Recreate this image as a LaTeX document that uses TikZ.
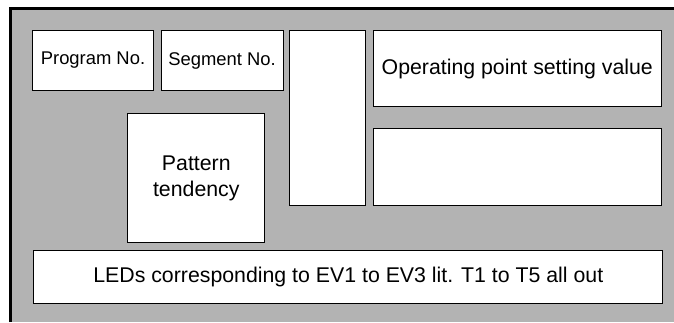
\documentclass[tikz,border=0pt]{standalone}
\usepackage{fontspec}
\setmainfont{Liberation Sans}
\definecolor{panelgray}{RGB}{179,179,179}
\tikzset{
  field/.style={draw=black, fill=white, line width=1pt, inner sep=0pt, align=center},
  bigtxt/.style={font=\fontsize{21.3}{26}\selectfont},
  smalltxt/.style={font=\fontsize{18.4}{22}\selectfont},
}
\begin{document}
\begin{tikzpicture}[x=1pt,y=-1pt]
\useasboundingbox (0,0) rectangle (674,322);
\fill[white] (0,0) rectangle (674,322);
\fill[panelgray] (10.7,8.7) rectangle (674,322);
\draw[line width=2.7pt] (10.7,322) -- (10.7,8.7) -- (674,8.7);
% boxes
\node[field, smalltxt, minimum width=121.4pt, minimum height=60pt] (prog) at (93,60.5) {Program No.};
\node[field, smalltxt, minimum width=122pt, minimum height=60pt] (seg) at (222,60.5) {Segment No.};
\node[field, minimum width=76pt, minimum height=174.5pt] (tall) at (327,118) {};
\node[field, bigtxt, minimum width=288pt, minimum height=75.5pt] (op) at (517.3,68.5) {Operating point setting value};
\node[field, minimum width=288pt, minimum height=76.5pt] (blank) at (517.3,167) {};
\node[field, bigtxt, minimum width=136.7pt, minimum height=129pt] (pat) at (196.3,178) {Pattern\\tendency};
\node[field, bigtxt, minimum width=628.7pt, minimum height=53pt] (leds) at (348.3,276.5) {LEDs corresponding to EV1 to EV3 lit. T1 to T5 all out};
\end{tikzpicture}
\end{document}
